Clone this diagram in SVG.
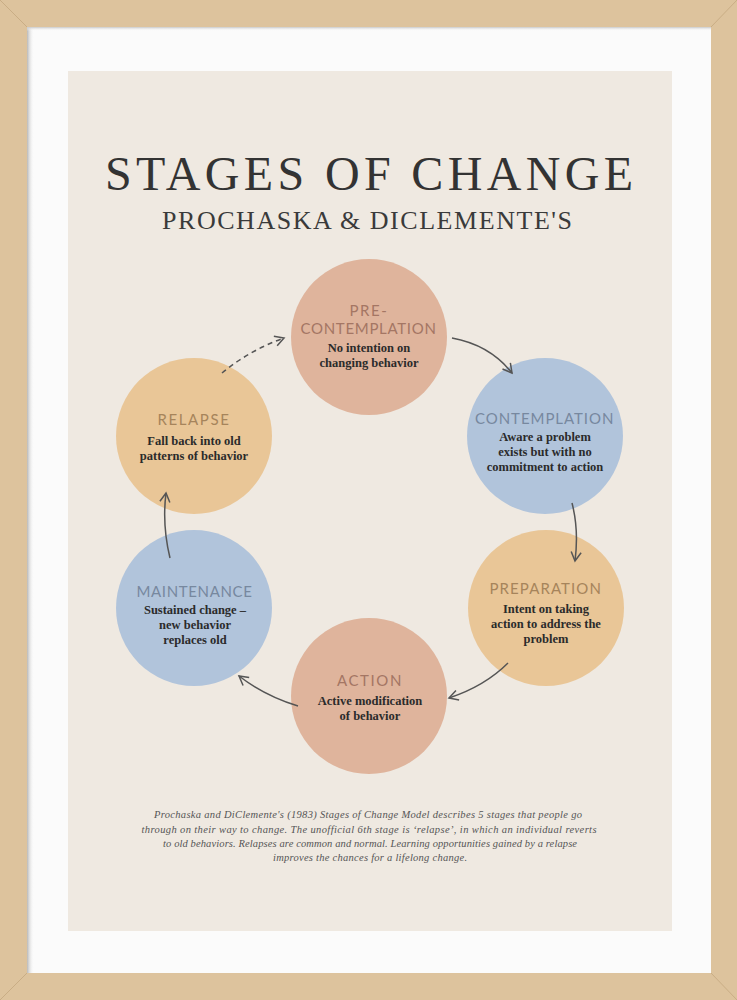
<svg xmlns="http://www.w3.org/2000/svg" width="737" height="1000" viewBox="0 0 737 1000">
<style>
.stage{font-family:"Lato","Liberation Sans",sans-serif;font-weight:400;font-size:15px;text-anchor:middle;letter-spacing:1.6px}
.body{font-family:"Liberation Serif",serif;font-weight:bold;font-size:12.5px;fill:#2b2b2b;text-anchor:middle}
.foot{font-family:"Liberation Serif",serif;font-style:italic;font-size:10.5px;fill:#555;text-anchor:middle}
.arr{fill:none;stroke:#555;stroke-width:1.5}
</style>
<defs>
<marker id="ah" markerUnits="userSpaceOnUse" markerWidth="14" markerHeight="14" refX="10" refY="6" orient="auto">
<path d="M1,1 L10,6 L1,11" fill="none" stroke="#555" stroke-width="1.5"/>
</marker>
<linearGradient id="shL" x1="0" x2="1" y1="0" y2="0">
<stop offset="0" stop-color="#b8b8b8"/><stop offset="1" stop-color="#fbfbfb" stop-opacity="0"/>
</linearGradient>
<linearGradient id="shT" x1="0" x2="0" y1="0" y2="1">
<stop offset="0" stop-color="#c8c8c8"/><stop offset="1" stop-color="#fbfbfb" stop-opacity="0"/>
</linearGradient>
</defs>
<g id="frame">
<rect x="0" y="0" width="737" height="1000" fill="#ddc39d"/>
<path d="M0,0 L27,27 M737,0 L711,27 M0,1000 L27,973 M737,1000 L711,973" stroke="#c9ad85" stroke-width="1"/>
<rect x="27" y="27" width="684" height="946" fill="#fbfbfb"/>
<rect x="27" y="27" width="7" height="946" fill="url(#shL)"/>
<rect x="27" y="27" width="684" height="4" fill="url(#shT)"/>
<rect x="68" y="71" width="604" height="860" fill="#efe9e1"/>
</g>
<g id="title">
<text x="369" y="190" font-family="Liberation Serif,serif" font-size="48" fill="#333" text-anchor="middle" textLength="528" lengthAdjust="spacing">STAGES OF CHANGE</text>
<text x="367" y="229" font-family="Liberation Serif,serif" font-size="26" fill="#3a3a3a" text-anchor="middle" textLength="410" lengthAdjust="spacing">PROCHASKA &amp; DICLEMENTE'S</text>
</g>
<g id="precontemplation">
<circle cx="369" cy="337" r="78" fill="#dfb49c"/>
<text class="stage" x="369" y="316" fill="#a47664">PRE-</text>
<text class="stage" x="369" y="334" fill="#a47664" textLength="137" lengthAdjust="spacing">CONTEMPLATION</text>
<text class="body" x="369" y="352">No intention on</text>
<text class="body" x="369" y="367">changing behavior</text>
</g>
<g id="contemplation">
<circle cx="545" cy="436" r="78" fill="#b1c4db"/>
<text class="stage" x="545" y="424" fill="#77889f" textLength="140" lengthAdjust="spacing">CONTEMPLATION</text>
<text class="body" x="545" y="441">Aware a problem</text>
<text class="body" x="545" y="456">exists but with no</text>
<text class="body" x="545" y="471">commitment to action</text>
</g>
<g id="preparation">
<circle cx="546" cy="608" r="78" fill="#e9c697"/>
<text class="stage" x="546" y="594" fill="#a6845b" textLength="113" lengthAdjust="spacing">PREPARATION</text>
<text class="body" x="546" y="613">Intent on taking</text>
<text class="body" x="546" y="628">action to address the</text>
<text class="body" x="546" y="643">problem</text>
</g>
<g id="action">
<circle cx="369" cy="696" r="78" fill="#dfb49c"/>
<text class="stage" x="370" y="686" fill="#a47664">ACTION</text>
<text class="body" x="370" y="705">Active modification</text>
<text class="body" x="370" y="720">of behavior</text>
</g>
<g id="maintenance">
<circle cx="194" cy="608" r="78" fill="#b1c4db"/>
<text class="stage" x="195" y="597" fill="#77889f" textLength="117" lengthAdjust="spacing">MAINTENANCE</text>
<text class="body" x="195" y="614">Sustained change –</text>
<text class="body" x="195" y="629">new behavior</text>
<text class="body" x="195" y="644">replaces old</text>
</g>
<g id="relapse">
<circle cx="194" cy="436" r="78" fill="#e9c697"/>
<text class="stage" x="194" y="425" fill="#a6845b">RELAPSE</text>
<text class="body" x="194" y="445">Fall back into old</text>
<text class="body" x="194" y="460">patterns of behavior</text>
</g>
<g id="connectors">
<path class="arr" d="M452,338 Q490,345 512,373" marker-end="url(#ah)"/>
<path class="arr" d="M572,503 Q579,530 575,561" marker-end="url(#ah)"/>
<path class="arr" d="M508,663 Q485,686 449,698" marker-end="url(#ah)"/>
<path class="arr" d="M298,706 Q265,696 239,676" marker-end="url(#ah)"/>
<path class="arr" d="M170,558 Q162,525 166,493" marker-end="url(#ah)"/>
<path class="arr" d="M222,373 Q250,350 284,338" stroke-dasharray="5,4" stroke-width="1.8" marker-end="url(#ah)"/>
</g>
<g id="footer">
<text class="foot" x="368" y="818" textLength="428" lengthAdjust="spacing">Prochaska and DiClemente's (1983) Stages of Change Model describes 5 stages that people go</text>
<text class="foot" x="369" y="833" textLength="455" lengthAdjust="spacing">through on their way to change. The unofficial 6th stage is ‘relapse’, in which an individual reverts</text>
<text class="foot" x="370" y="847" textLength="414" lengthAdjust="spacing">to old behaviors. Relapses are common and normal. Learning opportunities gained by a relapse</text>
<text class="foot" x="370" y="861" textLength="194" lengthAdjust="spacing">improves the chances for a lifelong change.</text>
</g>
</svg>
